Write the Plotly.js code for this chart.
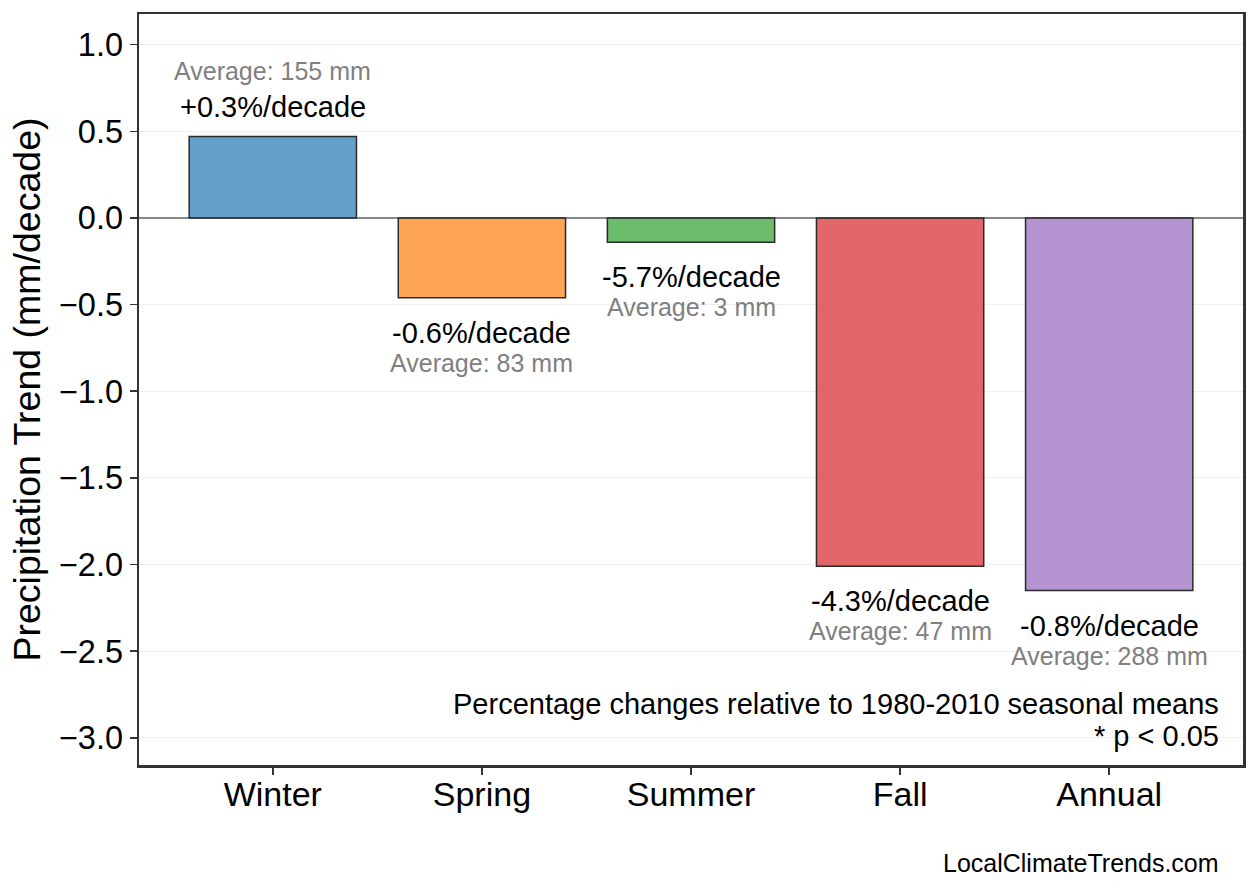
<!DOCTYPE html>
<html>
<head>
<meta charset="utf-8">
<script src="https://cdn.plot.ly/plotly-3.0.1.min.js"></script>
<style>html,body{margin:0;padding:0;background:#fff;}#chart{width:1258px;height:893px;}</style>
</head>
<body>
<div id="chart"></div>
<script>
const categories = ["Winter", "Spring", "Summer", "Fall", "Annual"];
const trends = [0.47, -0.46, -0.14, -2.01, -2.15];
const pctChanges = ["+0.3", "-0.6", "-5.7", "-4.3", "-0.8"];
const averages = [155, 83, 3, 47, 288];
const barColors = ["rgba(31,119,180,0.7)", "rgba(255,127,14,0.7)", "rgba(44,160,44,0.7)", "rgba(214,39,40,0.7)", "rgba(148,103,189,0.7)"];
const yTicks = [-3.0, -2.5, -2.0, -1.5, -1.0, -0.5, 0.0, 0.5, 1.0];

const FONT = "Liberation Sans, Arial, Helvetica, sans-serif";

const trace = {
  type: "bar",
  x: categories,
  y: trends,
  width: 0.8,
  marker: { color: barColors, line: { color: "#2a2a2a", width: 1.5 } },
  hoverinfo: "skip"
};

const annotations = [];
categories.forEach((c, i) => {
  const v = trends[i];
  const up = v >= 0;
  annotations.push({
    x: c, y: v, xref: "x", yref: "y",
    text: pctChanges[i] + "%/decade",
    showarrow: false, xanchor: "center", yanchor: "middle",
    yshift: up ? 30 : -35,
    font: { family: FONT, size: 29, color: "#000000" }
  });
  annotations.push({
    x: c, y: v, xref: "x", yref: "y",
    text: "Average: " + averages[i] + " mm",
    showarrow: false, xanchor: "center", yanchor: "middle",
    yshift: up ? 66 : -65,
    font: { family: FONT, size: 25, color: "#808080" }
  });
});
annotations.push({
  xref: "paper", yref: "paper", x: 0.980, y: 0.0812,
  text: "Percentage changes relative to 1980-2010 seasonal means",
  showarrow: false, xanchor: "right", yanchor: "middle",
  font: { family: FONT, size: 29, color: "#000000" }
});
annotations.push({
  xref: "paper", yref: "paper", x: 0.980, y: 0.0386,
  text: "* p < 0.05",
  showarrow: false, xanchor: "right", yanchor: "middle",
  font: { family: FONT, size: 29, color: "#000000" }
});
annotations.push({
  xref: "paper", yref: "paper", x: 0.980, y: -0.1305,
  text: "LocalClimateTrends.com",
  showarrow: false, xanchor: "right", yanchor: "middle",
  font: { family: FONT, size: 25, color: "#000000" }
});

const layout = {
  width: 1258, height: 893,
  margin: { l: 139, r: 15, t: 14, b: 128, pad: 0 },
  paper_bgcolor: "#ffffff", plot_bgcolor: "#ffffff",
  showlegend: false,
  font: { family: FONT, color: "#000000" },
  xaxis: {
    type: "category",
    range: [-0.64, 4.64],
    showgrid: false,
    showline: true, mirror: true, linecolor: "#333333", linewidth: 2.5,
    ticks: "outside", ticklen: 7, tickwidth: 1.5, tickcolor: "#333333",
    ticklabelstandoff: -9,
    tickfont: { family: FONT, size: 34, color: "#000000" },
    zeroline: false
  },
  yaxis: {
    range: [-3.157, 1.177],
    tickvals: yTicks,
    tickformat: ".1f",
    showgrid: true, gridcolor: "#eeeeee", gridwidth: 1,
    zeroline: true, zerolinecolor: "#888888", zerolinewidth: 1.5,
    showline: true, mirror: true, linecolor: "#333333", linewidth: 2.5,
    ticks: "outside", ticklen: 7, tickwidth: 1.5, tickcolor: "#333333",
    tickfont: { family: FONT, size: 32.5, color: "#000000" },
    title: { text: "Precipitation Trend (mm/decade)", font: { family: FONT, size: 37.5, color: "#000000" }, standoff: 7 }
  },
  annotations: annotations
};

Plotly.newPlot("chart", [trace], layout, { staticPlot: true, displayModeBar: false });
</script>
</body>
</html>
